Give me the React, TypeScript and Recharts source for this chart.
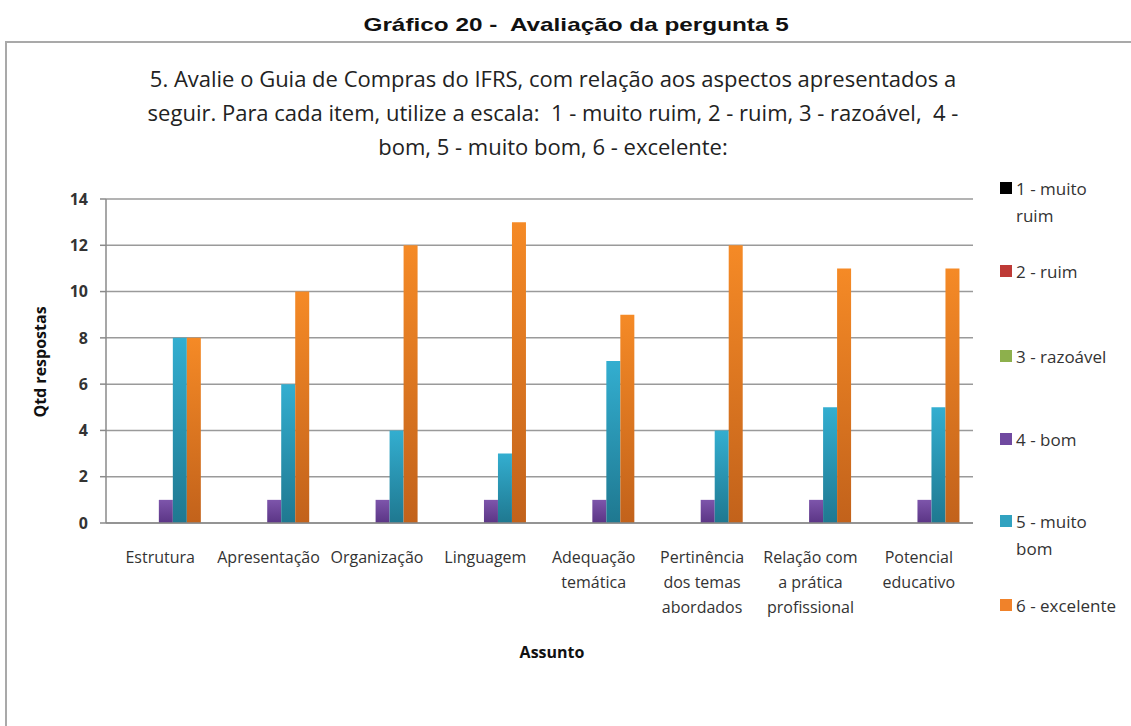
import React from 'react';
import { BarChart, Bar, XAxis, YAxis, CartesianGrid } from 'recharts';

const categories = [
  'Estrutura',
  'Apresentação',
  'Organização',
  'Linguagem',
  'Adequação temática',
  'Pertinência dos temas abordados',
  'Relação com a prática profissional',
  'Potencial educativo',
];

// label lines as shown under the axis
const categoryLines: string[][] = [
  ['Estrutura'],
  ['Apresentação'],
  ['Organização'],
  ['Linguagem'],
  ['Adequação', 'temática'],
  ['Pertinência', 'dos temas', 'abordados'],
  ['Relação com', 'a prática', 'profissional'],
  ['Potencial', 'educativo'],
];

const muitoRuim = [0, 0, 0, 0, 0, 0, 0, 0];
const ruim = [0, 0, 0, 0, 0, 0, 0, 0];
const razoavel = [0, 0, 0, 0, 0, 0, 0, 0];
const bom = [1, 1, 1, 1, 1, 1, 1, 1];
const muitoBom = [8, 6, 4, 3, 7, 4, 5, 5];
const excelente = [8, 10, 12, 13, 9, 12, 11, 11];

const yTicks = [0, 2, 4, 6, 8, 10, 12, 14];

const series = [
  { key: 's1', name: '1 - muito ruim', lines: ['1 - muito', 'ruim'], values: muitoRuim, top: '#222222', bottom: '#000000', swatch: '#000000' },
  { key: 's2', name: '2 - ruim', lines: ['2 - ruim'], values: ruim, top: '#c0504d', bottom: '#8c2f2c', swatch: '#be3a36' },
  { key: 's3', name: '3 - razoável', lines: ['3 - razoável'], values: razoavel, top: '#9bbb59', bottom: '#6f8a3a', swatch: '#8db04c' },
  { key: 's4', name: '4 - bom', lines: ['4 - bom'], values: bom, top: '#7d55ab', bottom: '#5b3585', swatch: '#7049a0' },
  { key: 's5', name: '5 - muito bom', lines: ['5 - muito', 'bom'], values: muitoBom, top: '#33aed0', bottom: '#1f7890', swatch: '#31a2c0' },
  { key: 's6', name: '6 - excelente', lines: ['6 - excelente'], values: excelente, top: '#f58a26', bottom: '#c2621b', swatch: '#f0822a' },
];

const data = categories.map((c, i) => {
  const row: any = { name: c, idx: i };
  series.forEach((s) => { row[s.key] = s.values[i]; });
  return row;
});

const font = '"Open Sans", "Noto Sans", sans-serif';
const textColor = '#333333';

const CategoryTick = (props: any) => {
  const { x, y, payload } = props;
  const lines = categoryLines[payload.index] || [payload.value];
  return (
    <g transform={`translate(${x},${y})`}>
      {lines.map((l, i) => (
        <text key={i} x={0} y={i * 25} dy={0} textAnchor="middle" fill={textColor} fontSize={16} fontFamily={font}>
          {l}
        </text>
      ))}
    </g>
  );
};

const legendY = [187, 270, 355, 438, 520, 604];

export default function App() {
  return (
    <div style={{ position: 'absolute', left: 0, top: 0, width: 1131, height: 726, background: '#fff', overflow: 'hidden' }}>
      <div style={{ position: 'absolute', left: 0, top: 14, width: 1152, textAlign: 'center' }}>
        <span style={{ display: 'inline-block', transform: 'scaleX(1.28)', fontFamily: '"Liberation Sans", Arial, sans-serif', fontWeight: 'bold', fontSize: 19, color: '#111', whiteSpace: 'pre' }}>
          Gráfico 20 -  Avaliação da pergunta 5
        </span>
      </div>
      <div style={{ position: 'absolute', left: 5, top: 41, width: 1140, height: 700, border: '2px solid #a9a9a9', boxSizing: 'border-box' }} />
      <div style={{ position: 'absolute', left: 100, top: 61, width: 906, textAlign: 'center', fontFamily: font, fontSize: 22, lineHeight: '34px', color: '#222', whiteSpace: 'pre' }}>
        {'5. Avalie o Guia de Compras do IFRS, com relação aos aspectos apresentados a\nseguir. Para cada item, utilize a escala:  1 - muito ruim, 2 - ruim, 3 - razoável,  4 -\nbom, 5 - muito bom, 6 - excelente:'}
      </div>
      <div style={{ position: 'absolute', left: 0, top: 0 }}>
        <BarChart
          width={1131}
          height={726}
          data={data}
          margin={{ top: 199, right: 158, bottom: 103, left: 46 }}
          barCategoryGap="10%"
          barGap={0}
        >
          <defs>
            {series.map((s) => (
              <linearGradient key={s.key} id={`grad-${s.key}`} x1="0" y1="0" x2="0" y2="1">
                <stop offset="0%" stopColor={s.top} />
                <stop offset="100%" stopColor={s.bottom} />
              </linearGradient>
            ))}
          </defs>
          <CartesianGrid vertical={false} stroke="#9a9a9a" strokeWidth={1.5} />
          <XAxis
            dataKey="name"
            height={100}
            interval={0}
            tickLine={false}
            axisLine={{ stroke: '#8a8a8a', strokeWidth: 1.5 }}
            tick={<CategoryTick />}
            tickMargin={34}
          />
          <YAxis
            width={60}
            domain={[0, 14]}
            ticks={yTicks}
            interval={0}
            tickSize={6}
            tickMargin={12}
            tickLine={{ stroke: '#8a8a8a', strokeWidth: 1.5 }}
            axisLine={{ stroke: '#8a8a8a', strokeWidth: 1.5 }}
            tick={{ fill: textColor, fontSize: 16, fontWeight: 'bold', fontFamily: font }}
          />
          {series.map((s) => (
            <Bar key={s.key} dataKey={s.key} name={s.name} fill={`url(#grad-${s.key})`} isAnimationActive={false} />
          ))}
        </BarChart>
      </div>
      <div style={{ position: 'absolute', left: 40, top: 362, transform: 'translate(-50%, -50%) rotate(-90deg)', fontFamily: font, fontWeight: 'bold', fontSize: 16, color: '#111', whiteSpace: 'nowrap' }}>
        Qtd respostas
      </div>
      <div style={{ position: 'absolute', left: 552, top: 652, transform: 'translate(-50%, -50%)', fontFamily: font, fontWeight: 'bold', fontSize: 16, color: '#111', whiteSpace: 'nowrap' }}>
        Assunto
      </div>
      {series.map((s, i) => (
        <div key={s.key} style={{ position: 'absolute', left: 1000, top: legendY[i] - 12, fontFamily: font, fontSize: 17, lineHeight: '27px', color: textColor }}>
          <span style={{ position: 'absolute', left: 0, top: 7, width: 12, height: 12, background: s.swatch }} />
          <div style={{ marginLeft: 16, whiteSpace: 'pre' }}>{s.lines.join('\n')}</div>
        </div>
      ))}
    </div>
  );
}
